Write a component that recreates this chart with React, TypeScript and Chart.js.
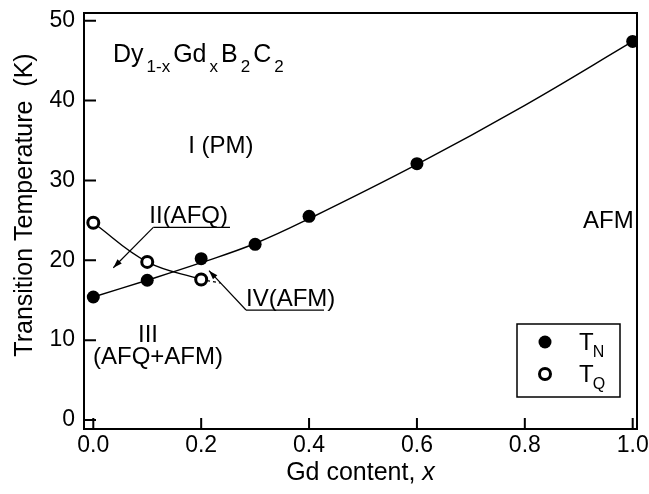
import React, { useEffect, useRef } from 'react';
import { Chart, registerables } from 'chart.js';

Chart.register(...registerables);

// ---- data ----
const gdContentTN = [0, 0.1, 0.2, 0.3, 0.4, 0.6, 1.0];
const tempTN = [15.4, 17.5, 20.2, 22.0, 25.5, 32.1, 47.4];
const gdContentTQ = [0, 0.1, 0.2];
const tempTQ = [24.7, 19.8, 17.6];
const fitXTN = [0, 0.1, 0.2, 0.3, 0.4, 0.6, 0.8, 1.0];
const fitTN = [15.4, 17.5, 19.7, 22.1, 25.2, 32.0, 39.4, 47.4];
// dashed continuation of the T_Q curve
const extXTQ = [0.2, 0.236];
const extTQ = [17.6, 17.15];

const xAxisTitle = 'Gd content, ';
const xAxisTitleItalic = 'x';
const yAxisTitle = 'Transition Temperature  (K)';
const legendLabels = [
  ['T', 'N'],
  ['T', 'Q'],
];
const formulaPieces: [string, boolean][] = [
  ['Dy', false], ['1-x', true], ['Gd', false], ['x', true],
  ['B', false], ['2', true], ['C', false], ['2', true],
];
// region labels, placed in data coordinates [x, T]
const regionLabels: [string, number, number][] = [
  ['I (PM)', 0.176, 33.47],
  ['II(AFQ)', 0.1038, 24.63],
  ['IV(AFM)', 0.2831, 14.27],
  ['III', 0.0829, 9.8],
  ['(AFQ+AFM)', -0.0006, 7.01],
  ['AFM', 0.908, 24.0],
];
const formulaAt: [number, number] = [0.0365, 44.87];
// pointer lines: underline start/end and arrow tip, data coordinates
const pointerII = { y: 24.13, x0: 0.1112, x1: 0.2534, tip: [0.0371, 19.07] };
const pointerIV = { y: 13.77, x0: 0.2831, x1: 0.4277, tip: [0.2145, 18.7] };

const FONT = '"Liberation Sans", Arial, Helvetica, sans-serif';

function arrow(ctx: CanvasRenderingContext2D, x1: number, y1: number, x2: number, y2: number) {
  ctx.beginPath();
  ctx.moveTo(x1, y1);
  ctx.lineTo(x2, y2);
  ctx.stroke();
  const ang = Math.atan2(y2 - y1, x2 - x1);
  const len = 9, half = 3;
  ctx.beginPath();
  ctx.moveTo(x2, y2);
  ctx.lineTo(x2 - len * Math.cos(ang) + half * Math.sin(ang), y2 - len * Math.sin(ang) - half * Math.cos(ang));
  ctx.lineTo(x2 - len * Math.cos(ang) - half * Math.sin(ang), y2 - len * Math.sin(ang) + half * Math.cos(ang));
  ctx.closePath();
  ctx.fill();
}

const overlay = {
  id: 'overlay',
  beforeDatasetsDraw(chart: any) {
    const { ctx, chartArea: a, scales } = chart;
    const xs = scales.x, ys = scales.y;
    ctx.save();
    ctx.strokeStyle = '#000';
    ctx.lineWidth = 2;
    ctx.strokeRect(a.left, a.top, a.right - a.left, a.bottom - a.top);
    ctx.beginPath();
    xs.ticks.forEach((t: any) => {
      const px = xs.getPixelForValue(t.value);
      ctx.moveTo(px, a.bottom);
      ctx.lineTo(px, a.bottom - 11);
    });
    ys.ticks.forEach((t: any) => {
      const py = ys.getPixelForValue(t.value);
      ctx.moveTo(a.left, py);
      ctx.lineTo(a.left + 12, py);
    });
    ctx.stroke();
    ctx.restore();
  },
  afterDraw(chart: any) {
    const { ctx, chartArea: a, scales } = chart;
    const xs = scales.x, ys = scales.y;
    const X = (v: number) => xs.getPixelForValue(v);
    const Y = (v: number) => ys.getPixelForValue(v);
    ctx.save();
    ctx.fillStyle = '#000';
    ctx.strokeStyle = '#000';
    ctx.textBaseline = 'alphabetic';
    ctx.textAlign = 'left';

    // formula with subscripts
    let fx = X(formulaAt[0]);
    const fy = Y(formulaAt[1]);
    formulaPieces.forEach(([s, sub]) => {
      ctx.font = sub ? `17px ${FONT}` : `25px ${FONT}`;
      ctx.fillText(s, fx, sub ? fy + 10 : fy);
      fx += ctx.measureText(s).width + 3;
    });

    // region labels
    ctx.font = `24px ${FONT}`;
    regionLabels.forEach(([s, vx, vy]) => ctx.fillText(s, X(vx), Y(vy)));

    // pointers
    ctx.lineWidth = 1.2;
    [pointerII, pointerIV].forEach((p) => {
      ctx.beginPath();
      ctx.moveTo(X(p.x0), Y(p.y));
      ctx.lineTo(X(p.x1), Y(p.y));
      ctx.stroke();
      arrow(ctx, X(p.x0), Y(p.y), X(p.tip[0]), Y(p.tip[1]));
    });

    // legend box
    const bx = a.right - 120, by = a.bottom - 105, bw = 103, bh = 73;
    ctx.lineWidth = 1.5;
    ctx.strokeRect(bx, by, bw, bh);
    ctx.beginPath();
    ctx.arc(bx + 28, by + 18, 6.5, 0, Math.PI * 2);
    ctx.fill();
    ctx.beginPath();
    ctx.arc(bx + 28, by + 50, 5.5, 0, Math.PI * 2);
    ctx.fillStyle = '#fff';
    ctx.fill();
    ctx.lineWidth = 3;
    ctx.stroke();
    ctx.fillStyle = '#000';
    legendLabels.forEach(([t, s], i) => {
      const ty = by + 26 + i * 32;
      ctx.font = `24px ${FONT}`;
      ctx.fillText(t, bx + 62, ty);
      const w = ctx.measureText(t).width;
      ctx.font = `16px ${FONT}`;
      ctx.fillText(s, bx + 62 + w - 1, ty + 7);
    });

    // axis titles
    ctx.font = `25px ${FONT}`;
    const w1 = ctx.measureText(xAxisTitle).width;
    ctx.font = `italic 25px ${FONT}`;
    const w2 = ctx.measureText(xAxisTitleItalic).width;
    const cx = (a.left + a.right) / 2;
    const sx = cx - (w1 + w2) / 2;
    ctx.font = `25px ${FONT}`;
    ctx.fillText(xAxisTitle, sx, 480);
    ctx.font = `italic 25px ${FONT}`;
    ctx.fillText(xAxisTitleItalic, sx + w1, 480);

    ctx.save();
    ctx.translate(32, 205);
    ctx.rotate(-Math.PI / 2);
    ctx.font = `25px ${FONT}`;
    ctx.textAlign = 'center';
    ctx.fillText(yAxisTitle, 0, 0);
    ctx.restore();

    ctx.restore();
  },
};

export default function App() {
  const ref = useRef<HTMLCanvasElement | null>(null);
  useEffect(() => {
    if (!ref.current) return;
    const chart = new Chart(ref.current, {
      type: 'scatter',
      data: {
        datasets: [
          {
            label: 'TQ',
            data: gdContentTQ.map((x, i) => ({ x, y: tempTQ[i] })),
            showLine: true,
            tension: 0.4,
            borderColor: '#000',
            borderWidth: 1.4,
            pointRadius: 5.5,
            pointBorderWidth: 3,
            pointBackgroundColor: '#fff',
            pointBorderColor: '#000',
          },
          {
            label: 'TN',
            data: gdContentTN.map((x, i) => ({ x, y: tempTN[i] })),
            showLine: false,
            pointRadius: 6.5,
            pointBorderWidth: 0,
            pointBackgroundColor: '#000',
            pointBorderColor: '#000',
          },
          {
            label: 'TN curve',
            data: fitXTN.map((x, i) => ({ x, y: fitTN[i] })),
            showLine: true,
            tension: 0.4,
            borderColor: '#000',
            borderWidth: 1.4,
            pointRadius: 0,
          },
          {
            label: 'TQ extension',
            data: extXTQ.map((x, i) => ({ x, y: extTQ[i] })),
            showLine: true,
            borderDash: [3, 3],
            borderColor: '#000',
            borderWidth: 1.2,
            pointRadius: 0,
          },
        ],
      },
      options: {
        responsive: false,
        animation: false,
        layout: { padding: { left: 0, top: 13, right: 12, bottom: 0 } },
        plugins: { legend: { display: false }, tooltip: { enabled: false } },
        scales: {
          x: {
            type: 'linear',
            min: -0.01724,
            max: 1.00797,
            grid: { display: false, drawTicks: false },
            border: { display: false },
            ticks: {
              stepSize: 0.2,
              includeBounds: false,
              padding: 3,
              color: '#000',
              font: { family: FONT, size: 23 },
              callback: (v: any) => Number(v).toFixed(1),
            },
            afterFit: (s: any) => {
              s.height = 65;
              s.paddingLeft = 0;
              s.paddingRight = 0;
            },
          },
          y: {
            type: 'linear',
            min: -1.127,
            max: 50.964,
            grid: { display: false, drawTicks: false },
            border: { display: false },
            ticks: {
              stepSize: 10,
              includeBounds: false,
              padding: 9,
              color: '#000',
              font: { family: FONT, size: 23 },
              callback: (v: any) => String(Math.round(Number(v))),
            },
            afterFit: (s: any) => {
              s.width = 84;
              s.paddingTop = 0;
              s.paddingBottom = 0;
            },
          },
        },
      },
      plugins: [overlay],
    } as any);
    return () => chart.destroy();
  }, []);
  return (
    <div style={{ position: 'absolute', left: 0, top: 0, width: 649, height: 494 }}>
      <canvas ref={ref} width={649} height={494} style={{ display: 'block' }} />
    </div>
  );
}
